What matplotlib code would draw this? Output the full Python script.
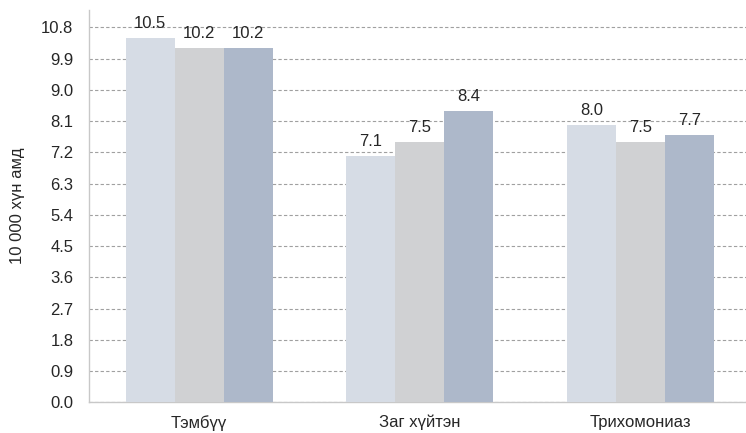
#!/usr/bin/env python3
import numpy as np
import matplotlib
matplotlib.use('Agg')
import matplotlib.pyplot as plt

categories = ['Тэмбүү', 'Заг хүйтэн', 'Трихомониаз']
series_a = [10.5, 7.1, 8.0]
series_b = [10.2, 7.5, 7.5]
series_c = [10.2, 8.4, 7.7]
yticks = [0.0, 0.9, 1.8, 2.7, 3.6, 4.5, 5.4, 6.3, 7.2, 8.1, 9.0, 9.9, 10.8]

colors = ['#D6DCE5', '#D0D1D3', '#ADB8CA']

plt.rcParams['font.family'] = ['Liberation Sans', 'DejaVu Sans']
fs = 12

fig = plt.figure(figsize=(7.46, 4.33), dpi=100)
ax = fig.add_axes([0.119, 0.071, 0.881, 0.906])

x = np.arange(len(categories))
width = 0.222
for i, (vals, col) in enumerate(zip([series_a, series_b, series_c], colors)):
    bars = ax.bar(x + (i - 1) * width, vals, width, color=col, zorder=3)
    for b, v in zip(bars, vals):
        ax.annotate(f'{v:.1f}', (b.get_x() + b.get_width() / 2, v),
                    xytext=(0, 5), textcoords='offset points',
                    ha='center', va='bottom', fontsize=fs, color='#262626', zorder=4)

ax.set_xlim(-0.5, 2.478)
ax.set_ylim(0, 11.3)
ax.set_yticks(yticks)
ax.set_yticklabels([f'{t:.1f}' for t in yticks])
ax.set_xticks(x)
ax.set_xticklabels(categories)
ax.tick_params(axis='both', length=0, labelsize=fs, colors='#262626')
ax.tick_params(axis='y', pad=11)
ax.tick_params(axis='x', pad=9)
ax.set_ylabel('10 000 хүн амд', fontsize=fs, color='#262626', labelpad=12)

ax.yaxis.grid(True, linestyle=(0, (3, 2)), color='#A0A0A0', linewidth=0.8, zorder=0)
for s in ['top', 'right']:
    ax.spines[s].set_visible(False)
for s in ['left', 'bottom']:
    ax.spines[s].set_color('#C8C8C8')
    ax.spines[s].set_linewidth(1.0)

fig.savefig('out.png', dpi=100)
